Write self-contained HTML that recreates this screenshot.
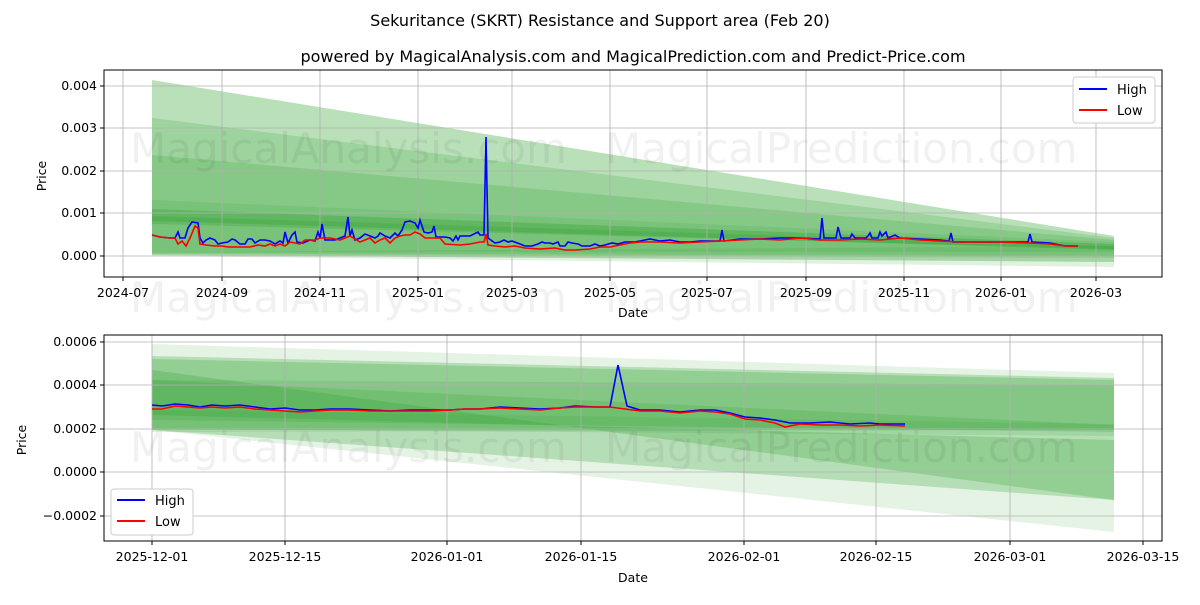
<!DOCTYPE html>
<html><head><meta charset="utf-8"><style>
body{margin:0;background:#fff;}
svg text{font-family:"DejaVu Sans","Liberation Sans",sans-serif;}
</style></head><body>
<svg width="1200" height="600" viewBox="0 0 1200 600" xmlns="http://www.w3.org/2000/svg">
<rect width="1200" height="600" fill="#fff"/>
<text x="600" y="26" font-size="16" text-anchor="middle">Sekuritance (SKRT) Resistance and Support area (Feb 20)</text>
<text x="633" y="62" font-size="16" text-anchor="middle">powered by MagicalAnalysis.com and MagicalPrediction.com and Predict-Price.com</text>

<!-- TOP CHART -->
<g>
<polygon points="152,80 1114,236 1114,262 152,255" fill="#2ca02c" opacity="0.33"/>
<polygon points="152,118 1114,238 1114,258 152,254" fill="#2ca02c" opacity="0.2"/>
<polygon points="152,155 1114,240 1114,256 152,253" fill="#2ca02c" opacity="0.2"/>
<polygon points="152,200 1114,242 1114,252 152,252" fill="#2ca02c" opacity="0.15"/>
<polygon points="152,209 1114,244 1114,250 152,221" fill="#2ca02c" opacity="0.3"/>
<polygon points="152,216 1114,246 1114,249 152,224" fill="#2ca02c" opacity="0.25"/>
<polygon points="152,252 1114,246 1114,267 152,256" fill="#2ca02c" opacity="0.15"/>
</g>
<g stroke="#b0b0b0" stroke-width="0.8">
<line x1="123" y1="70" x2="123" y2="277"/><line x1="222" y1="70" x2="222" y2="277"/><line x1="320" y1="70" x2="320" y2="277"/><line x1="418" y1="70" x2="418" y2="277"/><line x1="512" y1="70" x2="512" y2="277"/><line x1="610" y1="70" x2="610" y2="277"/><line x1="707" y1="70" x2="707" y2="277"/><line x1="806" y1="70" x2="806" y2="277"/><line x1="904" y1="70" x2="904" y2="277"/><line x1="1001" y1="70" x2="1001" y2="277"/><line x1="1096" y1="70" x2="1096" y2="277"/>
<line x1="104" y1="86" x2="1162" y2="86"/><line x1="104" y1="128" x2="1162" y2="128"/><line x1="104" y1="171" x2="1162" y2="171"/><line x1="104" y1="213" x2="1162" y2="213"/><line x1="104" y1="256" x2="1162" y2="256"/>
</g>
<text x="130" y="163" font-size="42" fill="#000" opacity="0.05">MagicalAnalysis.com</text>
<text x="605" y="163" font-size="42" fill="#000" opacity="0.05">MagicalPrediction.com</text>
<text x="130" y="312" font-size="42" fill="#000" opacity="0.05">MagicalAnalysis.com</text>
<text x="605" y="312" font-size="42" fill="#000" opacity="0.05">MagicalPrediction.com</text>
<polyline fill="none" stroke="#0000ff" stroke-width="1.6" points="152,235 160,237 170,238 175,238 178,232 180,238 185,238 188,228 192,222 198,223 200,238 203,243 206,240 210,238 215,240 218,244 222,243 228,242 232,239 235,240 240,244 245,244 248,239 252,239 255,243 260,240 265,240 270,241 275,244 280,241 283,243 285,232 288,243 292,235 295,232 297,242 303,243 310,240 315,241 318,232 320,238 322,224 325,240 335,240 345,236 348,217 350,236 352,230 355,240 360,238 365,234 370,236 375,238 378,236 380,233 385,236 390,238 395,233 398,236 402,230 405,222 410,221 415,223 418,228 420,220 424,232 428,233 432,232 434,226 436,237 445,237 450,238 453,241 456,236 458,240 460,236 464,236 470,236 478,232 480,235 484,235 486,137 488,238 495,243 500,242 504,240 508,242 512,241 520,244 525,246 532,246 538,244 542,242 545,243 550,243 553,244 558,242 560,246 565,246 568,242 572,243 578,244 582,246 590,246 595,244 600,246 605,245 612,243 618,244 625,242 630,242 635,242 640,241 645,240 650,239 660,241 670,240 680,242 690,242 700,241 720,241 722,230 724,241 740,239 760,239 780,238 800,238 820,239 822,218 824,238 836,238 838,227 841,238 850,238 852,234 855,238 866,238 868,236 870,233 872,238 878,238 880,232 882,236 886,232 888,238 895,235 900,238 920,239 940,240 949,241 951,233 953,242 970,242 1000,242 1015,242 1028,242 1030,234 1032,242 1050,243 1065,246 1078,246"/>
<polyline fill="none" stroke="#ff0000" stroke-width="1.6" points="152,235 160,237 170,238 175,238 178,244 182,241 186,246 190,238 195,226 198,228 200,244 206,245 215,246 222,246 228,247 240,247 250,247 258,245 265,246 270,244 275,246 280,244 285,246 290,242 295,243 300,244 305,240 315,240 320,238 330,238 340,240 345,238 350,236 360,242 365,240 370,238 375,243 380,240 385,238 390,243 395,238 400,236 405,235 410,235 415,232 420,234 425,238 430,238 440,238 445,244 460,245 470,244 480,242 484,242 486,234 488,245 495,246 505,247 515,246 525,248 540,249 555,248 565,250 575,250 590,249 600,247 610,247 620,245 630,243 640,242 650,242 660,242 680,243 700,242 720,241 740,240 760,239 780,240 800,238 820,240 840,240 860,239 880,240 900,238 920,240 940,241 960,242 1000,242 1030,243 1050,244 1065,246 1078,246"/>
<rect x="104" y="70" width="1058" height="207" fill="none" stroke="#000" stroke-width="1"/>
<g font-size="12.5" text-anchor="end">
<text x="97" y="90">0.004</text><text x="97" y="132">0.003</text><text x="97" y="175">0.002</text><text x="97" y="217">0.001</text><text x="97" y="260">0.000</text>
</g>
<g stroke="#000"><line x1="100" y1="86" x2="104" y2="86"/><line x1="100" y1="128" x2="104" y2="128"/><line x1="100" y1="171" x2="104" y2="171"/><line x1="100" y1="213" x2="104" y2="213"/><line x1="100" y1="256" x2="104" y2="256"/>
<line x1="123" y1="277" x2="123" y2="281"/><line x1="222" y1="277" x2="222" y2="281"/><line x1="320" y1="277" x2="320" y2="281"/><line x1="418" y1="277" x2="418" y2="281"/><line x1="512" y1="277" x2="512" y2="281"/><line x1="610" y1="277" x2="610" y2="281"/><line x1="707" y1="277" x2="707" y2="281"/><line x1="806" y1="277" x2="806" y2="281"/><line x1="904" y1="277" x2="904" y2="281"/><line x1="1001" y1="277" x2="1001" y2="281"/><line x1="1096" y1="277" x2="1096" y2="281"/></g>
<g font-size="12.5" text-anchor="middle">
<text x="123" y="297">2024-07</text><text x="222" y="297">2024-09</text><text x="320" y="297">2024-11</text><text x="418" y="297">2025-01</text><text x="512" y="297">2025-03</text><text x="610" y="297">2025-05</text><text x="707" y="297">2025-07</text><text x="806" y="297">2025-09</text><text x="904" y="297">2025-11</text><text x="1001" y="297">2026-01</text><text x="1096" y="297">2026-03</text>
<text x="633" y="317">Date</text>
<text x="0" y="0" transform="translate(46,176) rotate(-90)">Price</text>
</g>
<rect x="1073" y="77" width="82" height="46" fill="#fff" stroke="#ccc" rx="3"/>
<line x1="1079" y1="89" x2="1107" y2="89" stroke="#0000ff" stroke-width="2"/>
<line x1="1079" y1="110" x2="1107" y2="110" stroke="#ff0000" stroke-width="2"/>
<text x="1117" y="94" font-size="13">High</text><text x="1117" y="115" font-size="13">Low</text>

<!-- BOTTOM CHART -->
<g>
<polygon points="152,344 1114,373 1114,532 152,430" fill="#2ca02c" opacity="0.12"/>
<polygon points="152,356 1114,378 1114,500 152,430" fill="#2ca02c" opacity="0.25"/>
<polygon points="152,359 1114,380 1114,430 152,430" fill="#2ca02c" opacity="0.25"/>
<polygon points="152,380 1114,385 1114,436 152,429" fill="#2ca02c" opacity="0.15"/>
<polygon points="152,370 1114,500 1114,440 152,415" fill="#2ca02c" opacity="0.25"/>
<polygon points="152,380 1114,425 1114,432 152,420" fill="#2ca02c" opacity="0.2"/>
<polygon points="152,410 1114,424 1114,430 152,432" fill="#2ca02c" opacity="0.15"/>
</g>
<g stroke="#b0b0b0" stroke-width="0.8">
<line x1="152" y1="335" x2="152" y2="541"/><line x1="285" y1="335" x2="285" y2="541"/><line x1="447" y1="335" x2="447" y2="541"/><line x1="581" y1="335" x2="581" y2="541"/><line x1="744" y1="335" x2="744" y2="541"/><line x1="876" y1="335" x2="876" y2="541"/><line x1="1010" y1="335" x2="1010" y2="541"/><line x1="1143" y1="335" x2="1143" y2="541"/>
<line x1="104" y1="342" x2="1162" y2="342"/><line x1="104" y1="385" x2="1162" y2="385"/><line x1="104" y1="429" x2="1162" y2="429"/><line x1="104" y1="472" x2="1162" y2="472"/><line x1="104" y1="516" x2="1162" y2="516"/>
</g>
<text x="130" y="462" font-size="42" fill="#000" opacity="0.05">MagicalAnalysis.com</text>
<text x="605" y="462" font-size="42" fill="#000" opacity="0.05">MagicalPrediction.com</text>
<polyline fill="none" stroke="#0000ff" stroke-width="1.6" points="152,405 162,406 175,404 188,405 200,407 212,405 225,406 240,405 255,407 270,409 285,408 300,410 315,410 330,409 350,409 370,410 390,411 410,410 430,410 450,410 465,409 480,409 500,407 520,408 540,409 560,408 575,406 595,407 610,407 618,365 627,406 640,410 660,410 680,412 700,410 715,410 730,413 745,417 760,418 775,420 790,423 810,423 830,422 850,424 870,423 880,424 905,424"/>
<polyline fill="none" stroke="#ff0000" stroke-width="1.6" points="152,409 162,409 175,406 188,407 200,408 212,407 225,408 240,407 255,409 270,410 285,411 300,412 315,411 330,410 350,410 370,411 390,411 410,411 430,411 450,410 465,409 480,409 500,408 520,409 540,410 560,408 575,407 595,407 610,407 625,409 640,411 660,411 680,413 700,411 715,412 730,414 745,419 760,420 775,423 785,427 800,424 820,425 840,425 860,426 880,425 905,426"/>
<rect x="104" y="335" width="1058" height="206" fill="none" stroke="#000" stroke-width="1"/>
<g stroke="#000"><line x1="100" y1="342" x2="104" y2="342"/><line x1="100" y1="385" x2="104" y2="385"/><line x1="100" y1="429" x2="104" y2="429"/><line x1="100" y1="472" x2="104" y2="472"/><line x1="100" y1="516" x2="104" y2="516"/>
<line x1="152" y1="541" x2="152" y2="545"/><line x1="285" y1="541" x2="285" y2="545"/><line x1="447" y1="541" x2="447" y2="545"/><line x1="581" y1="541" x2="581" y2="545"/><line x1="744" y1="541" x2="744" y2="545"/><line x1="876" y1="541" x2="876" y2="545"/><line x1="1010" y1="541" x2="1010" y2="545"/><line x1="1143" y1="541" x2="1143" y2="545"/></g>
<g font-size="12.5" text-anchor="end">
<text x="97" y="346">0.0006</text><text x="97" y="389">0.0004</text><text x="97" y="433">0.0002</text><text x="97" y="476">0.0000</text><text x="97" y="520">−0.0002</text>
</g>
<g font-size="12.5" text-anchor="middle">
<text x="152" y="561">2025-12-01</text><text x="285" y="561">2025-12-15</text><text x="447" y="561">2026-01-01</text><text x="581" y="561">2026-01-15</text><text x="744" y="561">2026-02-01</text><text x="876" y="561">2026-02-15</text><text x="1010" y="561">2026-03-01</text><text x="1143" y="561">2026-03-15</text>
<text x="633" y="582">Date</text>
<text x="0" y="0" transform="translate(26,440) rotate(-90)">Price</text>
</g>
<rect x="111" y="489" width="82" height="46" fill="#fff" stroke="#ccc" rx="3"/>
<line x1="117" y1="500" x2="145" y2="500" stroke="#0000ff" stroke-width="2"/>
<line x1="117" y1="521" x2="145" y2="521" stroke="#ff0000" stroke-width="2"/>
<text x="155" y="505" font-size="13">High</text><text x="155" y="526" font-size="13">Low</text>
</svg>
</body></html>
